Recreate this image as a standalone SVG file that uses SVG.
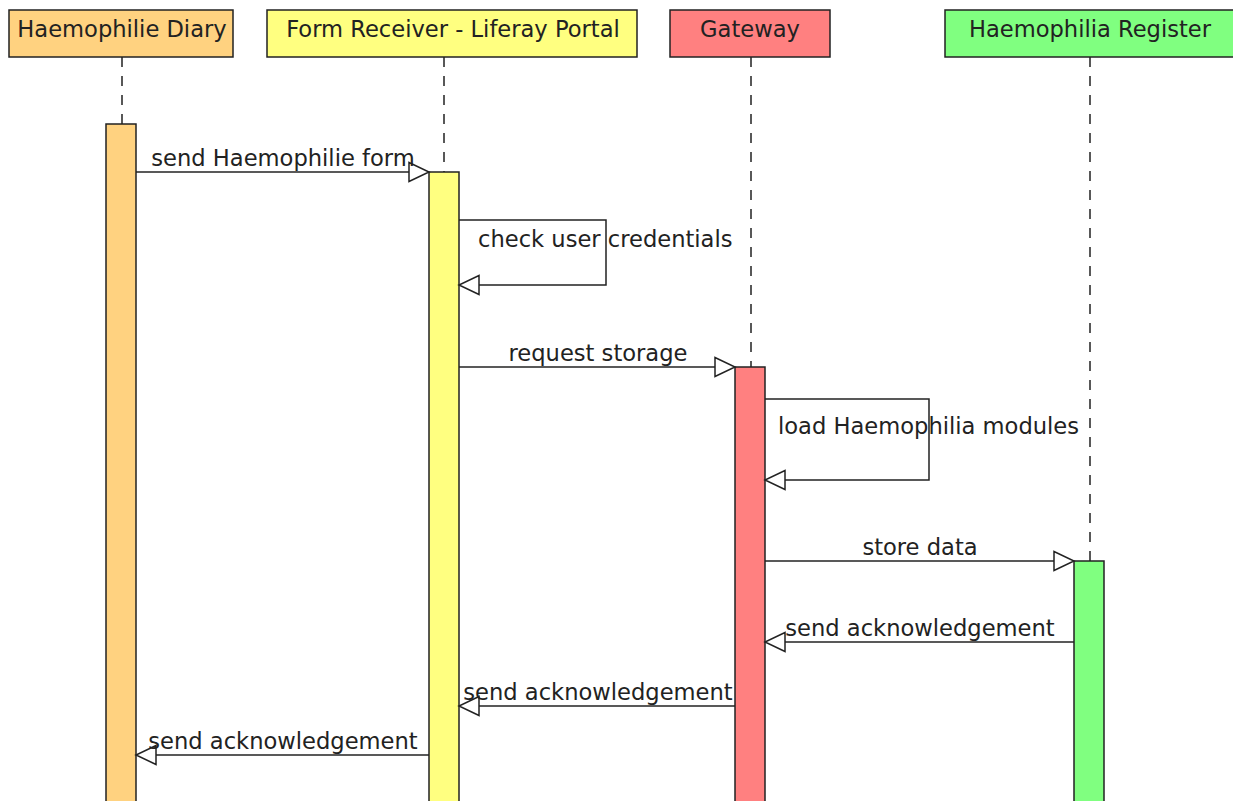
<svg xmlns="http://www.w3.org/2000/svg" width="1233" height="801" viewBox="0 0 1233 801">
<style>
text{font-family:"DejaVu Sans","Liberation Sans",sans-serif;font-size:22.6px;fill:#222}
.hdr{stroke:#222;stroke-width:1.5}
.life{stroke:#222;stroke-width:1.5;stroke-dasharray:10 9;fill:none}
.act{stroke:#222;stroke-width:1.5}
.msg{stroke:#222;stroke-width:1.5;fill:none}
.c{text-anchor:middle}
</style>
<defs>
<marker id="arr" markerUnits="userSpaceOnUse" markerWidth="24" markerHeight="24" viewBox="-22 -12 24 24" refX="0" refY="0" orient="auto">
<polygon points="-20,-9.5 0,0 -20,9.5" fill="#fff" stroke="#222" stroke-width="1.5"/>
</marker>
</defs>
<rect width="1233" height="801" fill="#fff"/>
<g id="lifelines">
<line class="life" x1="122" y1="57" x2="122" y2="124"/>
<line class="life" x1="444" y1="57" x2="444" y2="172"/>
<line class="life" x1="751" y1="57" x2="751" y2="367"/>
<line class="life" x1="1090" y1="57" x2="1090" y2="561"/>
</g>
<g id="diary">
<rect class="hdr" x="9" y="10" width="224" height="47" fill="#ffd280"/>
<text class="c" x="122" y="37">Haemophilie Diary</text>
<rect class="act" x="106" y="124" width="30" height="690" fill="#ffd280"/>
</g>
<g id="formreceiver">
<rect class="hdr" x="267" y="10" width="370" height="47" fill="#ffff80"/>
<text class="c" x="453" y="37">Form Receiver - Liferay Portal</text>
<rect class="act" x="429" y="172" width="30" height="640" fill="#ffff80"/>
</g>
<g id="gateway">
<rect class="hdr" x="670" y="10" width="160" height="47" fill="#ff8080"/>
<text class="c" x="750" y="37">Gateway</text>
<rect class="act" x="735" y="367" width="30" height="450" fill="#ff8080"/>
</g>
<g id="register">
<rect class="hdr" x="945" y="10" width="290" height="47" fill="#80ff80"/>
<text class="c" x="1090" y="37">Haemophilia Register</text>
<rect class="act" x="1074" y="561" width="30" height="260" fill="#80ff80"/>
</g>
<g id="connectors">
<line class="msg" x1="136" y1="172" x2="429" y2="172" marker-end="url(#arr)"/>
<text class="c" x="283" y="166">send Haemophilie form</text>
<polyline class="msg" points="459,220 606,220 606,285 459,285" marker-end="url(#arr)"/>
<text x="478" y="247">check user credentials</text>
<line class="msg" x1="459" y1="367" x2="735" y2="367" marker-end="url(#arr)"/>
<text class="c" x="598" y="361">request storage</text>
<polyline class="msg" points="765,399 929,399 929,480 765,480" marker-end="url(#arr)"/>
<text x="778" y="434">load Haemophilia modules</text>
<line class="msg" x1="765" y1="561" x2="1074" y2="561" marker-end="url(#arr)"/>
<text class="c" x="920" y="555">store data</text>
<line class="msg" x1="1074" y1="642" x2="765" y2="642" marker-end="url(#arr)"/>
<text class="c" x="920" y="636">send acknowledgement</text>
<line class="msg" x1="735" y1="706" x2="459" y2="706" marker-end="url(#arr)"/>
<text class="c" x="598" y="700">send acknowledgement</text>
<line class="msg" x1="429" y1="755" x2="136" y2="755" marker-end="url(#arr)"/>
<text class="c" x="283" y="749">send acknowledgement</text>
</g>
</svg>
